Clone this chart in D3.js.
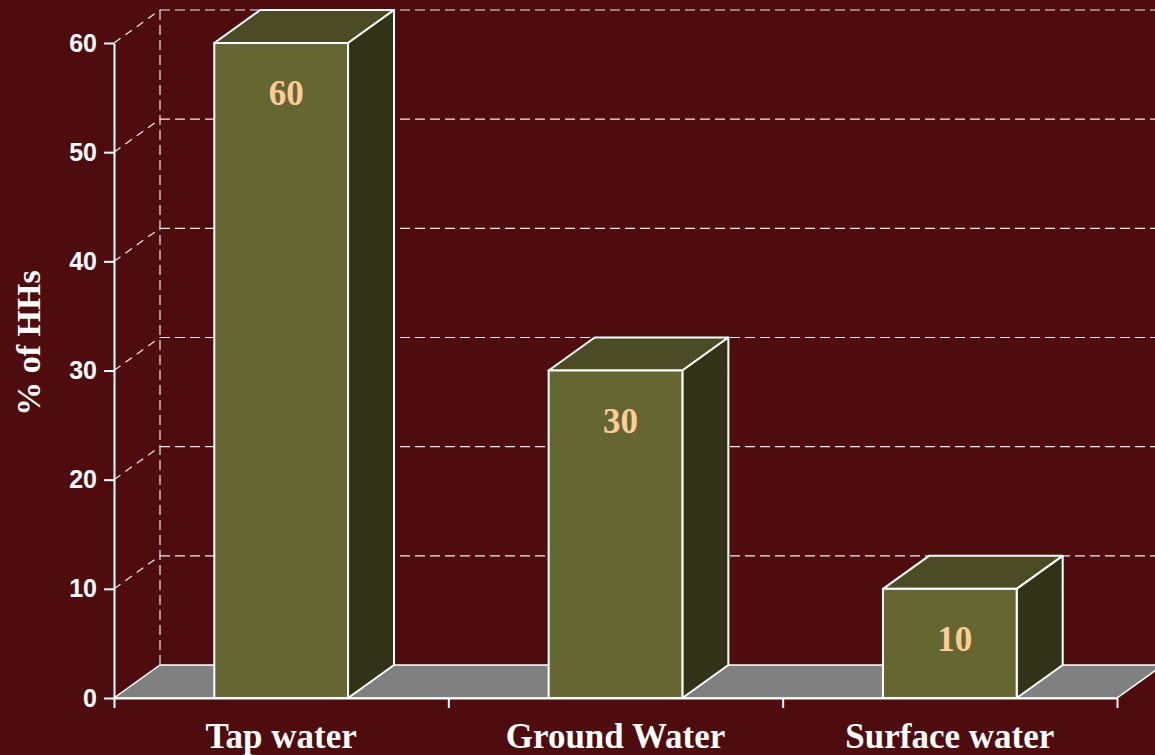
<!DOCTYPE html>
<html>
<head>
<meta charset="utf-8">
<script src="https://cdn.jsdelivr.net/npm/d3@7"></script>
<style>
  html, body { margin: 0; padding: 0; background: #4e0c0f; }
  svg { display: block; }
</style>
</head>
<body>
<script>
var categories = ['Tap water', 'Ground Water', 'Surface water'];
var values = [60, 30, 10];
var yTicks = [0, 10, 20, 30, 40, 50, 60];
var yTitle = '% of HHs';

var W = 1155, H = 755;
var plotLeft = 114, plotRight = 1117, plotTop = 43, plotBottom = 698;
var dx = 46, dy = 33; // depth offset

var x = d3.scaleBand().domain(categories).range([plotLeft, plotRight])
	.paddingInner(0.6).paddingOuter(0.3);
var xEdge = d3.scaleLinear().domain([0, categories.length]).range([plotLeft, plotRight]);
var y = d3.scaleLinear().domain([0, 60]).range([plotBottom, plotTop]);

var svg = d3.select('body').append('svg')
	.attr('width', W).attr('height', H);

svg.append('rect').attr('width', W).attr('height', H).attr('fill', '#4e0c0f');

// back wall gridlines
svg.append('g').selectAll('line.grid')
	.data(yTicks.filter(function(d) { return d > 0; }))
	.enter().append('line')
	.attr('x1', plotLeft + dx).attr('x2', W)
	.attr('y1', function(d) { return y(d) - dy; })
	.attr('y2', function(d) { return y(d) - dy; })
	.attr('stroke', '#f2eaea').attr('stroke-width', 1.2)
	.attr('stroke-dasharray', '10,5');

// left wall: vertical back edge and diagonals
svg.append('line')
	.attr('x1', plotLeft + dx).attr('x2', plotLeft + dx)
	.attr('y1', y(60) - dy).attr('y2', y(0) - dy)
	.attr('stroke', '#f2eaea').attr('stroke-width', 1.2)
	.attr('stroke-dasharray', '10,5');
svg.append('g').selectAll('line')
	.data(yTicks.filter(function(d) { return d > 0; }))
	.enter().append('line')
	.attr('x1', plotLeft).attr('x2', plotLeft + dx)
	.attr('y1', function(d) { return y(d); })
	.attr('y2', function(d) { return y(d) - dy; })
	.attr('stroke', '#f2eaea').attr('stroke-width', 1.2)
	.attr('stroke-dasharray', '8,6');

function pts(a) { return a.map(function(p) { return p.join(','); }).join(' '); }

// floor
svg.append('polygon')
	.attr('points', pts([[plotLeft, plotBottom], [plotRight, plotBottom],
		[plotRight + dx, plotBottom - dy], [plotLeft + dx, plotBottom - dy]]))
	.attr('fill', '#808080').attr('stroke', '#ffffff').attr('stroke-width', 1.5);

// bars
var bars = svg.append('g').selectAll('g.bar')
	.data(categories.map(function(c, i) { return { cat: c, v: values[i] }; }))
	.enter().append('g').attr('class', 'bar');

bars.append('polygon')
	.attr('points', function(d) {
		var x0 = x(d.cat), x1 = x0 + x.bandwidth(), yt = y(d.v);
		return pts([[x0, yt], [x0 + dx, yt - dy], [x1 + dx, yt - dy], [x1, yt]]);
	})
	.attr('fill', '#4b4b26').attr('stroke', '#fff').attr('stroke-width', 2).attr('stroke-linejoin', 'round');
bars.append('polygon')
	.attr('points', function(d) {
		var x1 = x(d.cat) + x.bandwidth(), yt = y(d.v);
		return pts([[x1, yt], [x1 + dx, yt - dy], [x1 + dx, y(0) - dy], [x1, y(0)]]);
	})
	.attr('fill', '#323219').attr('stroke', '#fff').attr('stroke-width', 2).attr('stroke-linejoin', 'round');
bars.append('rect')
	.attr('x', function(d) { return x(d.cat); })
	.attr('y', function(d) { return y(d.v); })
	.attr('width', x.bandwidth())
	.attr('height', function(d) { return y(0) - y(d.v); })
	.attr('fill', '#666633').attr('stroke', '#fff').attr('stroke-width', 2);

bars.append('text')
	.attr('x', function(d) { return x(d.cat) + x.bandwidth() / 2 + 5; })
	.attr('y', function(d) { return y(d.v) + 62; })
	.attr('text-anchor', 'middle')
	.style('font-family', '"Liberation Serif", "Times New Roman", serif')
	.style('font-weight', 'bold').style('font-size', '35px')
	.attr('fill', '#ffcc99')
	.text(function(d) { return d.v; });

// y axis
var yAxis = d3.axisLeft(y).tickValues(yTicks).tickSize(10).tickSizeOuter(0).tickPadding(7);
var gy = svg.append('g').attr('transform', 'translate(' + plotLeft + ',0)').call(yAxis);
gy.selectAll('path, line').attr('stroke', '#fff').attr('stroke-width', 2);
gy.selectAll('text')
	.style('font-family', '"Liberation Sans", Arial, sans-serif')
	.style('font-weight', 'bold').style('font-size', '25px')
	.attr('fill', '#fff');

// x axis line + boundary ticks
var xAxis = d3.axisBottom(xEdge).tickValues(d3.range(categories.length + 1))
	.tickSize(10).tickSizeOuter(0).tickFormat('');
var gx = svg.append('g').attr('transform', 'translate(0,' + plotBottom + ')').call(xAxis);
gx.selectAll('path, line').attr('stroke', '#fff').attr('stroke-width', 2);

// category labels
svg.append('g').selectAll('text')
	.data(categories)
	.enter().append('text')
	.attr('x', function(d) { return x(d) + x.bandwidth() / 2; })
	.attr('y', 748)
	.attr('text-anchor', 'middle')
	.style('font-family', '"Liberation Serif", "Times New Roman", serif')
	.style('font-weight', 'bold').style('font-size', '35px')
	.attr('fill', '#fff')
	.text(function(d) { return d; });

// y title
svg.append('text')
	.attr('transform', 'translate(40,343) rotate(-90)')
	.attr('text-anchor', 'middle')
	.style('font-family', '"Liberation Serif", "Times New Roman", serif')
	.style('font-weight', 'bold').style('font-size', '34px')
	.attr('fill', '#fff')
	.text(yTitle);
</script>
</body>
</html>
